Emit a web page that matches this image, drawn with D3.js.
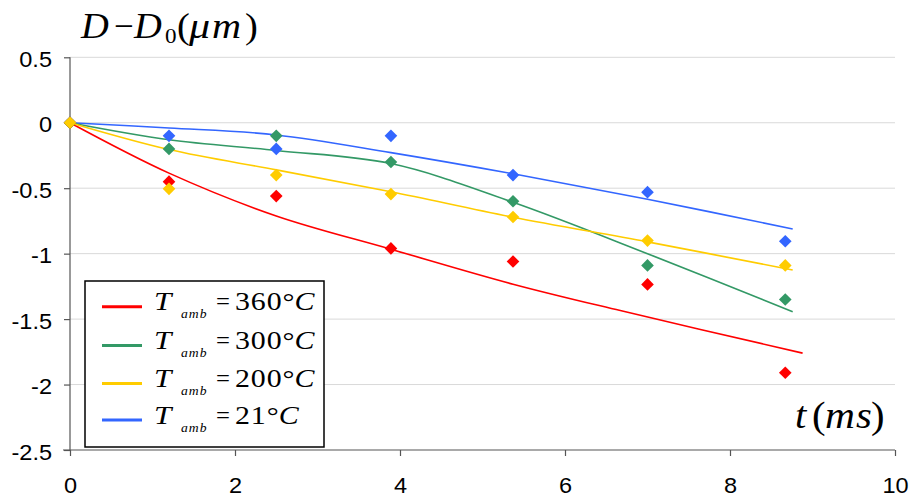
<!DOCTYPE html>
<html><head><meta charset="utf-8">
<script src="https://cdn.jsdelivr.net/npm/d3@7"></script>
<style>body{margin:0;background:#fff}svg{display:block}</style>
</head><body>
<svg id="chart" width="911" height="498"></svg>
<script>
// ---- data ----
const seriesNames = ["360", "300", "200", "21"];
const seriesColors = ["#FF0000", "#339966", "#FFCC00", "#3366FF"];
const measX = [0, 1.2, 2.5, 3.89, 5.37, 7.0, 8.67];
const meas360 = [0, -0.45, -0.56, -0.96, -1.06, -1.235, -1.91];
const meas300 = [0, -0.20, -0.10, -0.30, -0.60, -1.09, -1.35];
const meas200 = [0, -0.505, -0.40, -0.545, -0.72, -0.90, -1.09];
const meas21  = [0, -0.10, -0.20, -0.10, -0.40, -0.53, -0.905];
const fitX = [0, 1.2, 2.5, 3.89, 5.37, 7.0, 8.76];
const fitX360 = [0, 1.2, 2.5, 3.89, 5.37, 6.67, 8.88];
const fit360 = [0, -0.385, -0.712, -0.966, -1.233, -1.435, -1.76];
const fit300 = [0, -0.13, -0.212, -0.312, -0.607, -1.0, -1.443];
const fit200 = [0, -0.205, -0.36, -0.527, -0.722, -0.91, -1.125];
const fit21  = [0, -0.04, -0.093, -0.228, -0.39, -0.585, -0.811];
const xTicks = [0, 2, 4, 6, 8, 10];
const yTicks = [0.5, 0, -0.5, -1, -1.5, -2, -2.5];
const yTickLabels = ["0.5", "0", "-0.5", "-1", "-1.5", "-2", "-2.5"];

const svg = d3.select("#chart");
const x = d3.scaleLinear().domain([0, 10]).range([70, 895]);
const y = d3.scaleLinear().domain([-2.5, 0.5]).range([450, 57.3]);
const serif = "'Liberation Serif', 'Times New Roman', serif";
const sans = "'Liberation Sans', Arial, sans-serif";

// helper: text stretched horizontally
function stext(parent, px, py, str, o) {
  const t = parent.append("text")
    .attr("transform", `translate(${px},${py}) scale(${o.sx || 1},1)`)
    .style("font-family", o.family || serif)
    .style("font-size", o.size + "px")
    .attr("fill", "#000");
  if (o.italic) t.attr("font-style", "italic");
  if (o.anchor) t.attr("text-anchor", o.anchor);
  if (o.ls) t.attr("letter-spacing", o.ls + "px");
  if (str !== null) t.text(str);
  return t;
}

// gridlines
svg.append("g").selectAll("line").data(yTicks.filter(v => v > -2.5)).join("line")
  .attr("x1", x(0)).attr("x2", x(10))
  .attr("y1", d => y(d)).attr("y2", d => y(d))
  .attr("stroke", "#d9d9d9").attr("stroke-width", 1);

// axes
const axisColor = "#555";
const yAxis = svg.append("g").attr("transform", `translate(${x(0)},0)`)
  .call(d3.axisLeft(y).tickValues(yTicks).tickSize(6).tickFormat((d, i) => yTickLabels[i]));
const xAxis = svg.append("g").attr("transform", `translate(0,${y(-2.5)})`)
  .call(d3.axisBottom(x).tickValues(xTicks).tickSize(6).tickFormat(d3.format("d")));
[xAxis, yAxis].forEach(a => {
  a.select(".domain").attr("stroke", axisColor).attr("stroke-width", 1.2);
  a.selectAll(".tick line").attr("stroke", axisColor).attr("stroke-width", 1.2);
  a.selectAll("text").attr("fill", "#000").style("font-family", sans).style("font-size", "22px")
    .attr("x", 0).attr("y", 0).attr("dy", null);
});
yAxis.select(".domain").attr("d", `M0,${y(0.5)}V${y(-2.5)}`);
xAxis.select(".domain").attr("d", `M${x(0) - 7},0H${x(10)}`);
yAxis.selectAll(".tick text").attr("transform", "translate(-18,9) scale(1.07,1)");
xAxis.selectAll(".tick text").attr("transform", "translate(0,43) scale(1.07,1)");

// fitted curves
const fits = [
  {xs: fitX360, ys: fit360}, {xs: fitX, ys: fit300},
  {xs: fitX, ys: fit200}, {xs: fitX, ys: fit21}
];
const line = d3.line().x(d => x(d[0])).y(d => y(d[1])).curve(d3.curveCatmullRom.alpha(0.5));
const order = [3, 0, 1, 2];
order.forEach(i => {
  const f = fits[i];
  svg.append("path").datum(f.xs.map((v, k) => [v, f.ys[k]]))
    .attr("d", line).attr("fill", "none")
    .attr("stroke", seriesColors[i]).attr("stroke-width", 1.6);
});

// markers
const meas = [meas360, meas300, meas200, meas21];
const diamond = d3.symbol().type(d3.symbolSquare).size(80);
order.forEach(i => {
  svg.append("g").selectAll("path").data(measX.map((v, k) => [v, meas[i][k]])).join("path")
    .attr("d", diamond)
    .attr("transform", d => `translate(${x(d[0])},${y(d[1])}) rotate(45)`)
    .attr("fill", seriesColors[i]);
});

// title  D − D0(μm)
const tg = svg.append("g");
stext(tg, 81, 38, "D", {size: 35, italic: true, sx: 1.1});
stext(tg, 114, 38, "\u2212", {size: 35, sx: 1.0});
stext(tg, 134, 38, "D", {size: 35, italic: true, sx: 1.1});
stext(tg, 165, 43, "0", {size: 22, sx: 1.05});
stext(tg, 177, 38, "(", {size: 35, sx: 1.1});
stext(tg, 189, 38, "\u03BC", {size: 35, italic: true, sx: 1.2});
stext(tg, 212, 38, "m", {size: 35, italic: true, sx: 1.15});
stext(tg, 245, 38, ")", {size: 35, sx: 1.1});

// x-axis label t(ms)
const xg = svg.append("g");
stext(xg, 795, 428, "t", {size: 37, italic: true, sx: 1.1});
stext(xg, 812, 428, "(", {size: 37, sx: 1.1});
stext(xg, 825, 428, "m", {size: 37, italic: true, sx: 1.12});
stext(xg, 856, 428, "s", {size: 37, italic: true, sx: 1.1});
stext(xg, 871, 428, ")", {size: 37, sx: 1.1});

// legend
svg.append("rect").attr("x", 85).attr("y", 281).attr("width", 239).attr("height", 166)
  .attr("fill", "#fff").attr("stroke", "#000").attr("stroke-width", 1.5);
const rowY = [306.7, 345.5, 383.5, 420];
seriesNames.forEach((name, i) => {
  const g = svg.append("g");
  const by = rowY[i] + 3.7;
  g.append("line").attr("x1", 102).attr("x2", 142).attr("y1", rowY[i]).attr("y2", rowY[i])
    .attr("stroke", seriesColors[i]).attr("stroke-width", 3);
  stext(g, 154, by, "T", {size: 26, italic: true, sx: 1.2});
  stext(g, 181, by + 8, "amb", {size: 13, italic: true, sx: 1.05, ls: 1});
  stext(g, 216, by, "=", {size: 26, sx: 0.95});
  const t = stext(g, 235, by, null, {size: 26, sx: 1.15});
  t.append("tspan").attr("letter-spacing", "0.8px").text(name);
  t.append("tspan").text("\u00B0");
  t.append("tspan").attr("font-style", "italic").text("C");
});
</script>
</body></html>
